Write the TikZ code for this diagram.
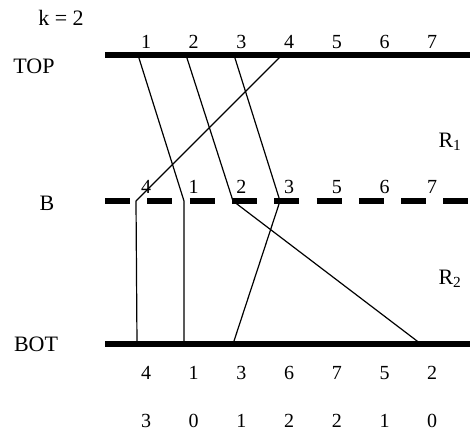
\documentclass[tikz,border=0pt]{standalone}
\usepackage{fontspec}
\setmainfont{Liberation Serif}
\usetikzlibrary{positioning}

\begin{document}
\begin{tikzpicture}[
            x=1pt, y=-1pt, % pixel grid, y down
            rail/.style={line width=6pt},
            brokenrail/.style={line width=6pt, dash pattern=on 25pt off 17.3pt},
            wire/.style={line width=1.2pt, line join=round},
            num/.style={font=\fontsize{20}{24}\selectfont, inner sep=0pt, anchor=base},
            tag/.style={font=\fontsize{22}{26}\selectfont, inner sep=0pt, anchor=base}
        ]
            \useasboundingbox (0,0) rectangle (470,437);

            % rails
            \coordinate (topL) at (105,55);   \coordinate (topR) at (470,55);
            \coordinate (midL) at (105,201);  \coordinate (midR) at (470,201);
            \coordinate (botL) at (105,344);  \coordinate (botR) at (470,344);
            \draw[rail] (topL) -- (topR);
            \draw[brokenrail] (midL) -- (midR);
            \draw[rail] (botL) -- (botR);

            % labels
            \node[tag] (k) at (61,25) {k = 2};
            \node[tag] (TOP) at (34,73) {TOP};
            \node[tag] (B) at (47,210) {B};
            \node[tag] (BOT) at (36,351) {BOT};
            \node[tag] (R1) at (450,147) {R\textsubscript{1}};
            \node[tag] (R2) at (450,284) {R\textsubscript{2}};

            \foreach \v [count=\i] in {1,2,3,4,5,6,7}
                \node[num] (t\i) at ({146+47.7*(\i-1)},48) {\v};
            \foreach \v [count=\i] in {4,1,2,3,5,6,7}
                \node[num] (m\i) at ({146+47.7*(\i-1)},193) {\v};
            \foreach \v [count=\i] in {4,1,3,6,7,5,2}
                \node[num] (b\i) at ({146+47.7*(\i-1)},379) {\v};
            \foreach \v [count=\i] in {3,0,1,2,2,1,0}
                \node[num] (c\i) at ({146+47.7*(\i-1)},427) {\v};

            % wire points
            \coordinate (w1a) at (138,55);  \coordinate (w1b) at (184,201); \coordinate (w1c) at (184,344);
            \coordinate (w2a) at (186,55);  \coordinate (w2b) at (233,201); \coordinate (w2c) at (421,344);
            \coordinate (w3a) at (234,55);  \coordinate (w3b) at (280,201); \coordinate (w3c) at (233,344);
            \coordinate (w4a) at (282,55);  \coordinate (w4b) at (136,201); \coordinate (w4c) at (137,344);

            \foreach \w in {1,2,3,4}
                \draw[wire] (w\w a) -- (w\w b) -- (w\w c);
        \end{tikzpicture}
\end{document}
